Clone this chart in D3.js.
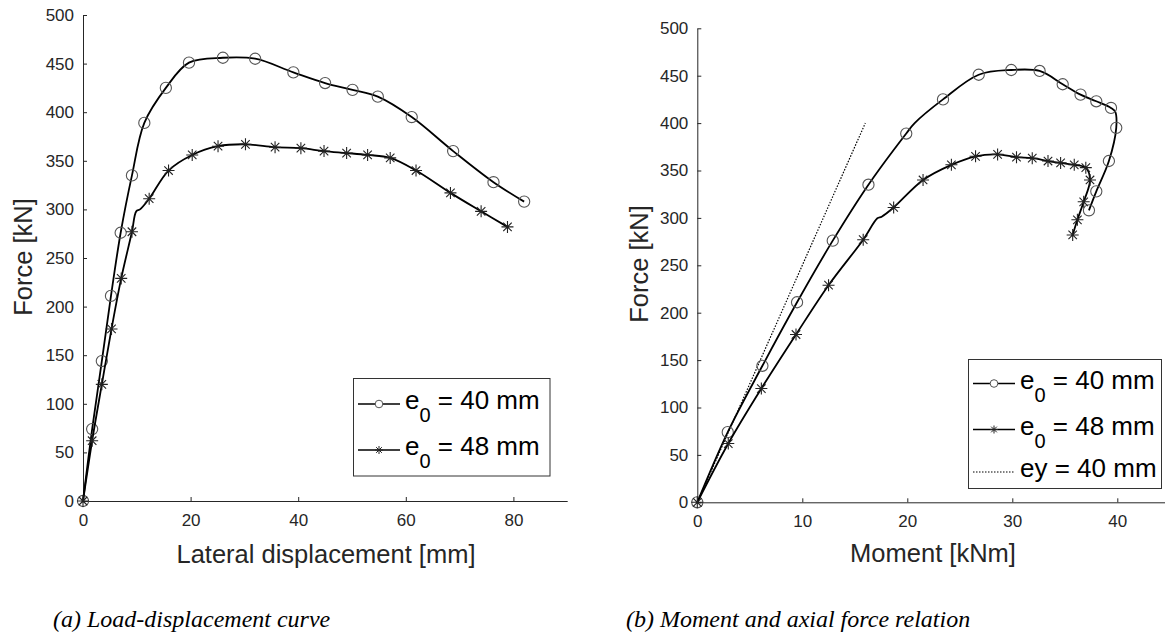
<!DOCTYPE html>
<html>
<head>
<meta charset="utf-8">
<script src="https://cdn.jsdelivr.net/npm/d3@7"></script>
<style>
  html, body { margin: 0; padding: 0; background: #fff; }
  svg { display: block; }
</style>
</head>
<body>
<svg id="chart" width="1165" height="643"></svg>
<script>
// ---------------- DATA ----------------
// e0 = 40 mm (circle markers)
const force40  = [0, 74, 144, 211, 276, 335, 389, 425, 451, 456, 455, 441, 430, 423, 416, 395, 360, 328, 308];
const disp40   = [0, 1.7, 3.5, 5.2, 7.0, 9.1, 11.4, 15.4, 19.7, 26.0, 32.0, 39.1, 45.0, 50.1, 54.8, 61.1, 68.8, 76.3, 82.0];
const moment40 = [0, 2.9, 6.2, 9.5, 12.9, 16.3, 19.9, 23.4, 26.8, 29.9, 32.6, 34.8, 36.5, 38.0, 39.4, 39.9, 39.2, 38.0, 37.3];
// e0 = 48 mm (asterisk markers)
const force48  = [0, 62, 120, 177, 229, 277, 311, 340, 356, 365, 367, 364, 363, 360, 358, 356, 353, 340, 317, 298, 282];
const disp48   = [0, 1.7, 3.5, 5.3, 7.1, 9.1, 12.3, 15.9, 20.3, 25.1, 30.2, 35.7, 40.5, 44.8, 49.0, 52.9, 57.1, 61.9, 68.3, 74.0, 78.9];
const moment48 = [0, 2.95, 6.1, 9.4, 12.5, 15.8, 18.7, 21.5, 24.2, 26.5, 28.6, 30.4, 31.9, 33.4, 34.6, 35.9, 37.0, 37.4, 36.8, 36.2, 35.75];
// extra line-only points (kinks), inserted after a marker index
const kink48LeftX  = [9.9, 10.6],   kink48LeftY  = [298, 300],   kink48LeftAfter = 5;
const kink48RightX = [17.15, 17.56], kink48RightY = [299.6, 301.3], kink48RightAfter = 5;
const kink40RightX = [20.7],  kink40RightY = [400], kink40RightAfter = 6;
const corner40RightX = [39.8], corner40RightY = [412], corner40RightAfter = 14;
// ey = 40 mm reference line
const eyMoment = [0, 16];
const eyForce  = [0, 400];
// ticks
const dispTicks   = [0, 20, 40, 60, 80];
const momentTicks = [0, 10, 20, 30, 40];
const forceTicks  = [0, 50, 100, 150, 200, 250, 300, 350, 400, 450, 500];
// texts
const legendLeft  = ["40 mm", "48 mm"];
const legendRight = ["40 mm", "48 mm", "ey = 40 mm"];

// ---------------- HELPERS ----------------
const svg = d3.select("#chart");
const SANS = "'Liberation Sans', Arial, Helvetica, sans-serif";
const SERIF = "'Liberation Serif', 'Times New Roman', serif";
const AX = "#262626";

function pts(xs, ys) { return xs.map((x, i) => [x, ys[i]]); }
function withInserts(base, inserts) {
  const out = base.slice();
  inserts.sort((a, b) => b.after - a.after).forEach(ins => {
    out.splice(ins.after + 1, 0, ...ins.pts);
  });
  return out;
}
function starPath(r) {
  const d = r * 0.7071;
  return `M${-r},0H${r}M0,${-r}V${r}M${-d},${-d}L${d},${d}M${-d},${d}L${d},${-d}`;
}

function drawAxes(g, x, y, xTicks, yTicks) {
  const xa = g.append("g")
    .attr("transform", `translate(0,${y(0)})`)
    .call(d3.axisBottom(x).tickValues(xTicks).tickSizeInner(-4).tickSizeOuter(0).tickPadding(13));
  const ya = g.append("g")
    .attr("transform", `translate(${x(0)},0)`)
    .call(d3.axisLeft(y).tickValues(yTicks).tickSizeInner(-4).tickSizeOuter(0).tickPadding(9));
  [xa, ya].forEach(a => {
    a.attr("color", AX).attr("font-family", SANS).attr("font-size", 17);
    a.select(".domain").attr("stroke-width", 1);
  });
}

function drawSeries(g, x, y, linePts, markerPts, type) {
  const line = d3.line().x(d => x(d[0])).y(d => y(d[1])).curve(d3.curveCatmullRom.alpha(0.5));
  g.append("path").datum(linePts).attr("d", line)
    .attr("fill", "none").attr("stroke", "#000").attr("stroke-width", 1.8).attr("stroke-linejoin", "round");
  if (type === "circle") {
    g.selectAll(null).data(markerPts).enter().append("circle")
      .attr("cx", d => x(d[0])).attr("cy", d => y(d[1])).attr("r", 5.6)
      .attr("fill", "none").attr("stroke", "#555").attr("stroke-width", 1.1);
  } else {
    g.selectAll(null).data(markerPts).enter().append("path")
      .attr("transform", d => `translate(${x(d[0])},${y(d[1])})`)
      .attr("d", starPath(6))
      .attr("fill", "none").attr("stroke", "#222").attr("stroke-width", 1.1);
  }
}

function legendEntry(g, x0, yLine, type, label, sub) {
  g.append("line").attr("x1", x0).attr("x2", x0 + 42).attr("y1", yLine).attr("y2", yLine)
    .attr("stroke", "#000").attr("stroke-width", type === "dot" ? 1.2 : 1.6)
    .attr("stroke-dasharray", type === "dot" ? "1.5,1.5" : null);
  const cx = x0 + 21;
  if (type === "circle") {
    g.append("circle").attr("cx", cx).attr("cy", yLine).attr("r", 3.8)
      .attr("fill", "#fff").attr("stroke", "#555").attr("stroke-width", 1);
  } else if (type === "star") {
    g.append("path").attr("transform", `translate(${cx},${yLine})`).attr("d", starPath(4))
      .attr("fill", "none").attr("stroke", "#222").attr("stroke-width", 1);
  }
  const t = g.append("text").attr("x", x0 + 47).attr("y", yLine + 5)
    .attr("font-family", SANS).attr("font-size", 26).attr("fill", "#000");
  if (sub) {
    t.append("tspan").text("e");
    t.append("tspan").attr("font-size", 20).attr("dy", 13).text("0");
    t.append("tspan").attr("dy", -13).text("\u00a0= " + label);
  } else {
    t.text(label);
  }
}

// ---------------- LEFT PANEL ----------------
const gL = svg.append("g");
const xL = d3.scaleLinear().domain([0, 90]).range([83, 567.2]);
const yL = d3.scaleLinear().domain([0, 500]).range([501, 15]);
drawAxes(gL, xL, yL, dispTicks, forceTicks);

const m40L = pts(disp40, force40);
const m48L = pts(disp48, force48);
const l48L = withInserts(m48L, [{after: kink48LeftAfter, pts: pts(kink48LeftX, kink48LeftY)}]);
drawSeries(gL, xL, yL, m40L, m40L, "circle");
drawSeries(gL, xL, yL, l48L, m48L, "star");

gL.append("text").attr("x", 326).attr("y", 563).attr("text-anchor", "middle")
  .attr("font-family", SANS).attr("font-size", 25.5).attr("fill", AX).text("Lateral displacement [mm]");
gL.append("text").attr("transform", "translate(31.5,257) rotate(-90)").attr("text-anchor", "middle")
  .attr("font-family", SANS).attr("font-size", 25.5).attr("fill", AX).text("Force [kN]");

gL.append("rect").attr("x", 353.5).attr("y", 378.5).attr("width", 196.5).attr("height", 97.5)
  .attr("fill", "#fff").attr("stroke", "#333").attr("stroke-width", 1);
legendEntry(gL, 358, 404, "circle", legendLeft[0], true);
legendEntry(gL, 358, 450, "star", legendLeft[1], true);

gL.append("text").attr("x", 53).attr("y", 627)
  .attr("font-family", SERIF).attr("font-style", "italic").attr("font-size", 24).attr("fill", "#000")
  .text("(a) Load-displacement curve");

// ---------------- RIGHT PANEL ----------------
const gR = svg.append("g");
const xR = d3.scaleLinear().domain([0, 45]).range([697.3, 1169.8]);
const yR = d3.scaleLinear().domain([0, 500]).range([502.3, 28.3]);
drawAxes(gR, xR, yR, momentTicks, forceTicks);

const m40R = pts(moment40, force40);
const m48R = pts(moment48, force48);
const l40R = withInserts(m40R, [
  {after: kink40RightAfter, pts: pts(kink40RightX, kink40RightY)},
  {after: corner40RightAfter, pts: pts(corner40RightX, corner40RightY)}
]);
const l48R = withInserts(m48R, [{after: kink48RightAfter, pts: pts(kink48RightX, kink48RightY)}]);

gR.append("path").datum(pts(eyMoment, eyForce))
  .attr("d", d3.line().x(d => xR(d[0])).y(d => yR(d[1])))
  .attr("stroke", "#000").attr("stroke-width", 1.2).attr("stroke-dasharray", "1.5,1.5").attr("fill", "none");
drawSeries(gR, xR, yR, l40R, m40R, "circle");
drawSeries(gR, xR, yR, l48R, m48R, "star");

gR.append("text").attr("x", 933).attr("y", 562).attr("text-anchor", "middle")
  .attr("font-family", SANS).attr("font-size", 25.5).attr("fill", AX).text("Moment [kNm]");
gR.append("text").attr("transform", "translate(648,264) rotate(-90)").attr("text-anchor", "middle")
  .attr("font-family", SANS).attr("font-size", 25.5).attr("fill", AX).text("Force [kN]");

gR.append("rect").attr("x", 968.5).attr("y", 359.5).attr("width", 193).attr("height", 129)
  .attr("fill", "#fff").attr("stroke", "#333").attr("stroke-width", 1);
legendEntry(gR, 973, 383.5, "circle", legendRight[0], true);
legendEntry(gR, 973, 429.5, "star", legendRight[1], true);
legendEntry(gR, 973, 472, "dot", legendRight[2], false);

gR.append("text").attr("x", 626).attr("y", 627)
  .attr("font-family", SERIF).attr("font-style", "italic").attr("font-size", 24).attr("fill", "#000")
  .text("(b) Moment and axial force relation");
</script>
</body>
</html>
